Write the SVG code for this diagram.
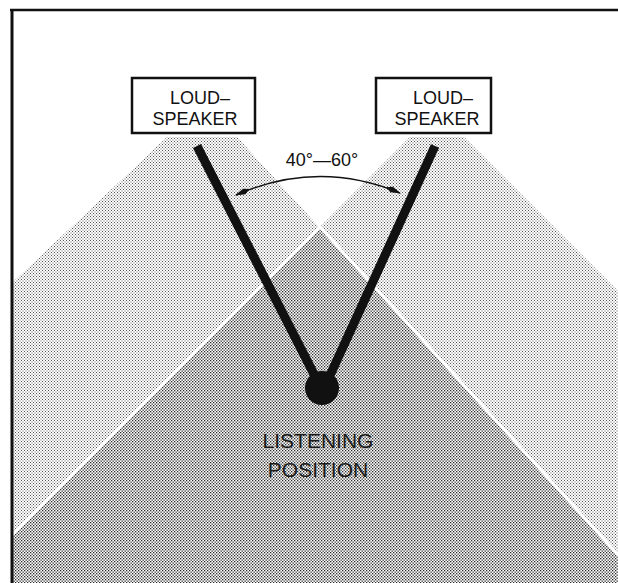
<svg xmlns="http://www.w3.org/2000/svg" width="618" height="583" viewBox="0 0 618 583">
  <defs>
    <pattern id="light" width="3" height="3" patternUnits="userSpaceOnUse">
      <rect width="3" height="3" fill="#ffffff"/>
      <rect x="0" y="0" width="1" height="1" fill="#555555"/>
      <rect x="1.5" y="1.5" width="1" height="1" fill="#555555"/>
    </pattern>
    <pattern id="dark" width="3" height="3" patternUnits="userSpaceOnUse">
      <rect width="3" height="3" fill="#ffffff"/>
      <rect x="0" y="0" width="1.3" height="1.3" fill="#2a2a2a"/>
      <rect x="1.5" y="1.5" width="1.3" height="1.3" fill="#2a2a2a"/>
    </pattern>
    <marker id="arrow" viewBox="0 0 16 8" refX="15" refY="4" markerWidth="16" markerHeight="8" markerUnits="userSpaceOnUse" orient="auto-start-reverse">
      <path d="M0,4 L6,1 L16,4 L6,7 Z" fill="#111"/>
    </marker>
    <style>
      .box { fill: #ffffff; stroke: #111; stroke-width: 2.5; }
      .lbl { font-family: "Liberation Sans", Arial, sans-serif; font-size: 18px; fill: #111; text-anchor: middle; }
      .pos { font-family: "Liberation Sans", Arial, sans-serif; font-size: 21px; fill: #1a1a1a; text-anchor: middle; }
      .edge { stroke: #ffffff; stroke-width: 3; fill: none; }
      .beam { stroke: #111; stroke-width: 9; stroke-linecap: butt; fill: none; }
    </style>
  </defs>

  <rect width="618" height="583" fill="#ffffff"/>

  <g id="sound-fields">
    <polygon points="167,137 237,137 618,555 618,583 12,583 12,283" fill="url(#light)"/>
    <polygon points="410,137 464,137 618,291 618,583 12,583 12,535" fill="url(#light)"/>
    <polygon points="320,227 618,555 618,583 12,583 12,535" fill="url(#dark)"/>
    <line class="edge" x1="320" y1="227" x2="620" y2="557"/>
    <line class="edge" x1="320" y1="227" x2="10" y2="537"/>
  </g>

  <g id="frame">
    <line x1="10" y1="10" x2="618" y2="10" stroke="#111" stroke-width="2.5"/>
    <line x1="12" y1="9" x2="12" y2="583" stroke="#111" stroke-width="3"/>
  </g>

  <g id="connectors">
    <line class="beam" x1="197" y1="146" x2="318" y2="382"/>
    <line class="beam" x1="435" y1="146" x2="327" y2="382"/>
    <path d="M236,195 Q318,159 400,193" fill="none" stroke="#111" stroke-width="1.5" marker-start="url(#arrow)" marker-end="url(#arrow)"/>
    <text class="lbl" x="322" y="166">40°—60°</text>
  </g>

  <g id="speaker-left">
    <rect class="box" x="132" y="78" width="123" height="55"/>
    <text class="lbl" x="200" y="104">LOUD–</text>
    <text class="lbl" x="195" y="125">SPEAKER</text>
  </g>

  <g id="speaker-right">
    <rect class="box" x="376" y="78" width="115" height="55"/>
    <text class="lbl" x="443" y="104">LOUD–</text>
    <text class="lbl" x="437" y="125">SPEAKER</text>
  </g>

  <g id="listening-position">
    <circle cx="322" cy="388" r="17" fill="#111"/>
    <text class="pos" x="318" y="448">LISTENING</text>
    <text class="pos" x="318" y="477">POSITION</text>
  </g>
</svg>
